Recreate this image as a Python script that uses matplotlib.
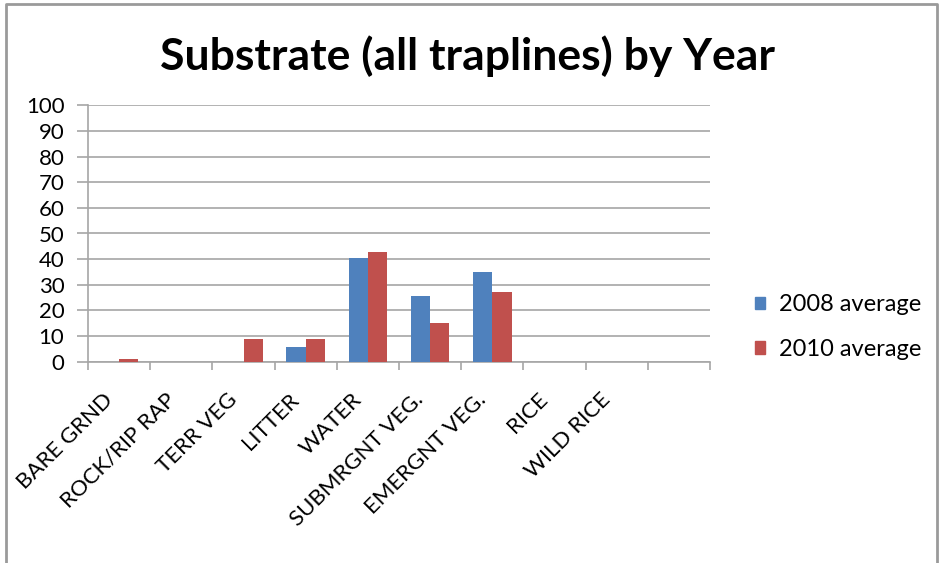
import matplotlib
matplotlib.use("Agg")
import matplotlib.pyplot as plt
import numpy as np
from matplotlib.lines import Line2D
from matplotlib.patches import Patch
from matplotlib.ticker import FixedLocator, NullFormatter

# Substrate composition, averaged over all traplines
categories = ["BARE GRND", "ROCK/RIP RAP", "TERR VEG", "LITTER", "WATER",
              "SUBMRGNT VEG.", "EMERGNT VEG.", "RICE", "WILD RICE", ""]
avg_2008 = [0, 0, 0, 5.7, 40.4, 25.6, 35.0, 0, 0, 0]
avg_2010 = [1.0, 0, 8.8, 8.8, 42.8, 15.1, 27.2, 0, 0, 0]
series_names = ["2008 average", "2010 average"]
y_ticks = list(range(0, 101, 10))

BLUE = "#4F81BD"
RED = "#C0504D"
GRID = "#A6A6A6"

plt.rcParams["font.family"] = ["Lato", "DejaVu Sans"]

W, H = 939, 563
fig = plt.figure(figsize=(W / 100, H / 100), dpi=100)
ax = fig.add_axes([88 / W, 1 - 361.7 / H, 622 / W, 256.4 / H])

x = np.arange(len(categories))
bw = 0.31
ax.bar(x - bw / 2, avg_2008, bw, color=BLUE, label=series_names[0], zorder=3)
ax.bar(x + bw / 2, avg_2010, bw, color=RED, label=series_names[1], zorder=3)

ax.set_xlim(-0.5, len(categories) - 0.5)
ax.set_ylim(0, 100)

# y axis
ax.set_yticks(y_ticks)
ax.set_yticklabels([str(v) for v in y_ticks])
ax.yaxis.grid(True, color=GRID, lw=1.2)
ax.set_axisbelow(True)
ax.tick_params(axis="y", direction="out", length=8, width=1.2, color=GRID,
               pad=9, labelsize=16, labelcolor="black")

# x axis: tick marks between categories, slanted names under each category
ax.xaxis.set_major_locator(FixedLocator(np.arange(-0.5, len(categories), 1.0)))
ax.xaxis.set_major_formatter(NullFormatter())
ax.tick_params(axis="x", which="major", direction="out", length=6, width=1.2,
               color=GRID)
for pos, name in zip(x, categories):
    ax.annotate(name, xy=(pos, 0), xycoords=("data", "axes fraction"),
                xytext=(-12, -20), textcoords="offset points",
                rotation=45, ha="right", va="top", rotation_mode="anchor",
                fontsize=16, annotation_clip=False)

for side in ("top", "right"):
    ax.spines[side].set_visible(False)
for side in ("left", "bottom"):
    ax.spines[side].set_color(GRID)
    ax.spines[side].set_linewidth(1.2)

fig.text(468 / W, 1 - 70 / H, "Substrate (all traplines) by Year",
         ha="center", va="baseline", fontsize=32, fontweight="bold")

handles = [Patch(color=BLUE), Patch(color=RED)]
fig.legend(handles, series_names, loc="upper left",
           bbox_to_anchor=(734 / W, 1 - 273 / H), frameon=False, fontsize=17,
           handlelength=0.42, handleheight=0.42, handletextpad=0.6,
           labelspacing=1.0)

# chart frame
frame = Line2D([6 / W, 6 / W, 937 / W, 937 / W], [0, 1 - 4 / H, 1 - 4 / H, 0],
               transform=fig.transFigure, color="#9A9A9A", lw=2)
fig.add_artist(frame)

fig.savefig("out.png", dpi=100)
